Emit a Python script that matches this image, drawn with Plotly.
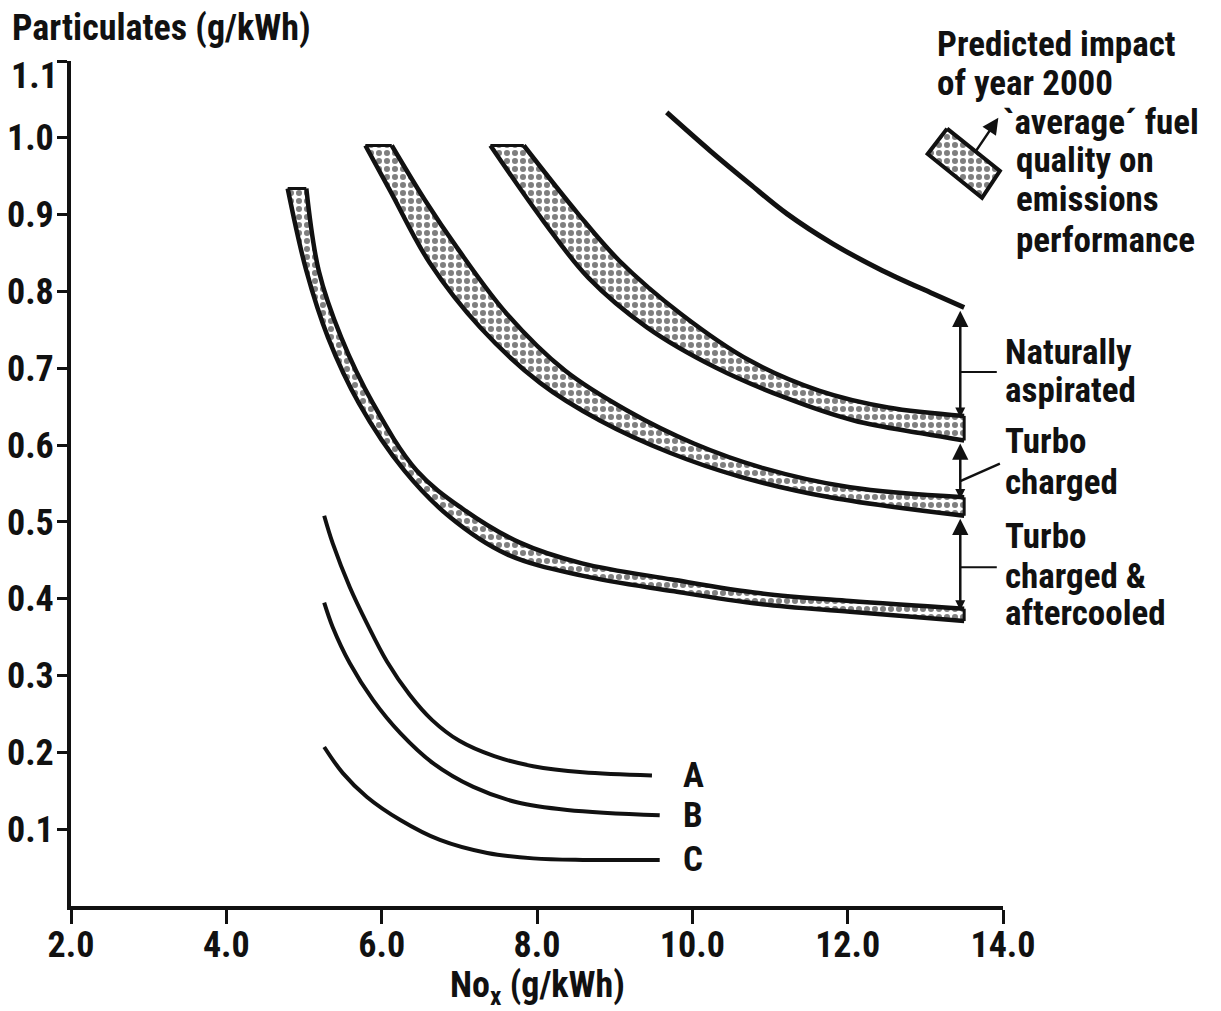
import plotly.graph_objects as go

# ---------------- data ----------------
# Naturally aspirated - upper (unshaded) line
na_top_x = [9.67, 10.23, 10.74, 11.22, 11.81, 12.45, 13.10, 13.50]
na_top_y = [1.033, 0.983, 0.940, 0.901, 0.862, 0.827, 0.797, 0.779]

# Naturally aspirated - shaded band (fuel quality impact)
na_hi_x = [7.83, 8.53, 9.06, 9.85, 10.74, 11.63, 12.52, 13.50]
na_hi_y = [0.990, 0.901, 0.840, 0.771, 0.710, 0.671, 0.649, 0.638]
na_lo_x = [7.40, 8.08, 8.66, 9.42, 10.30, 11.19, 12.08, 12.97, 13.50]
na_lo_y = [0.990, 0.892, 0.818, 0.753, 0.701, 0.662, 0.632, 0.615, 0.606]

# Turbo charged band
tc_hi_x = [6.13, 6.55, 6.97, 7.61, 8.36, 9.16, 10.02, 10.88, 12.03, 13.50]
tc_hi_y = [0.990, 0.920, 0.857, 0.771, 0.697, 0.645, 0.602, 0.571, 0.545, 0.532]
tc_lo_x = [5.79, 6.11, 6.62, 7.27, 8.04, 8.81, 9.71, 10.61, 11.77, 13.50]
tc_lo_y = [0.990, 0.931, 0.837, 0.753, 0.681, 0.632, 0.590, 0.559, 0.532, 0.508]

# Turbo charged & aftercooled band
tca_hi_x = [5.03, 5.19, 5.48, 5.89, 6.45, 7.03, 7.78, 8.58, 9.74, 10.88, 12.03, 13.50]
tca_hi_y = [0.934, 0.827, 0.740, 0.654, 0.567, 0.518, 0.473, 0.446, 0.425, 0.407, 0.397, 0.387]
tca_lo_x = [4.79, 5.03, 5.31, 5.71, 6.29, 6.87, 7.61, 8.58, 9.74, 10.88, 12.03, 13.50]
tca_lo_y = [0.934, 0.827, 0.740, 0.654, 0.567, 0.507, 0.458, 0.430, 0.410, 0.393, 0.383, 0.371]

# Curves A, B, C
a_x = [5.26, 5.37, 5.59, 5.81, 6.07, 6.36, 6.65, 7.00, 7.45, 7.95, 8.59, 9.48]
a_y = [0.508, 0.472, 0.415, 0.368, 0.318, 0.275, 0.242, 0.215, 0.195, 0.182, 0.174, 0.170]
b_x = [5.26, 5.37, 5.59, 5.89, 6.24, 6.66, 7.18, 7.74, 8.39, 9.58]
b_y = [0.395, 0.363, 0.316, 0.268, 0.225, 0.186, 0.155, 0.135, 0.125, 0.118]
c_x = [5.26, 5.50, 5.81, 6.24, 6.75, 7.36, 7.95, 8.59, 9.58]
c_y = [0.207, 0.173, 0.142, 0.112, 0.086, 0.069, 0.062, 0.060, 0.060]
curve_labels = ["A", "B", "C"]

# Legend swatch (tilted shaded box) and its arrow
swatch_x = [13.28, 13.96, 13.73, 13.03, 13.28]
swatch_y = [1.012, 0.957, 0.922, 0.979, 1.012]
swatch_arrow_from = (13.64, 0.981)
swatch_arrow_to = (13.94, 1.026)

# Axis ticks
x_tickvals = [2, 4, 6, 8, 10, 12, 14]
x_ticktext = ["2.0", "4.0", "6.0", "8.0", "10.0", "12.0", "14.0"]
y_tickvals = [0.1, 0.2, 0.3, 0.4, 0.5, 0.6, 0.7, 0.8, 0.9, 1.0, 1.1]
y_ticktext = ["0.1", "0.2", "0.3", "0.4", "0.5", "0.6", "0.7", "0.8", "0.9", "1.0", "1.1"]

# Texts
side_labels = [("Naturally", 0.720), ("aspirated", 0.671),
               ("Turbo", 0.605), ("charged", 0.551),
               ("Turbo", 0.481), ("charged &", 0.429), ("aftercooled", 0.381)]
# (text, paper x of left edge, paper y of line centre)
legend_lines = [("Predicted impact", 0.927, 1.019), ("of year 2000", 0.927, 0.973),
                ("`average\u00b4 fuel", 0.998, 0.927), ("quality on", 1.012, 0.882),
                ("emissions", 1.012, 0.836), ("performance", 1.012, 0.787)]

# ---------------- styling ----------------
FONT = "Liberation Sans Narrow, Arial Narrow, Roboto Condensed, DejaVu Sans Condensed, sans-serif"
INK = "#111111"
PATTERN = dict(shape=".", fgcolor="black", bgcolor="white", size=8, solidity=0.45)

fig = go.Figure()


def line(x, y, width=4, shape="spline"):
    fig.add_trace(go.Scatter(x=x, y=y, mode="lines",
                             line=dict(color=INK, width=width, shape=shape),
                             hoverinfo="skip", showlegend=False))


def band(lo_x, lo_y, hi_x, hi_y):
    line(lo_x, lo_y, width=4.5)
    fig.add_trace(go.Scatter(x=hi_x, y=hi_y, mode="lines",
                             line=dict(color=INK, width=4.5, shape="spline"),
                             fill="tonexty", fillpattern=PATTERN,
                             hoverinfo="skip", showlegend=False))
    line([lo_x[0], hi_x[0]], [lo_y[0], hi_y[0]], width=3, shape="linear")
    line([lo_x[-1], hi_x[-1]], [lo_y[-1], hi_y[-1]], width=3, shape="linear")


band(tca_lo_x, tca_lo_y, tca_hi_x, tca_hi_y)
band(tc_lo_x, tc_lo_y, tc_hi_x, tc_hi_y)
band(na_lo_x, na_lo_y, na_hi_x, na_hi_y)
line(na_top_x, na_top_y, width=5)
line(a_x, a_y)
line(b_x, b_y)
line(c_x, c_y)

# legend swatch
fig.add_trace(go.Scatter(x=swatch_x, y=swatch_y, mode="lines",
                         line=dict(color=INK, width=4), fill="toself",
                         fillpattern=PATTERN, hoverinfo="skip", showlegend=False))

annotations = []
txt_font = dict(family=FONT, size=35, color=INK, weight="bold")
tick_font = dict(family=FONT, size=36, color=INK, weight="bold")

# curve letter labels
for lab, xs, ys in zip(curve_labels, [a_x, b_x, c_x], [a_y, b_y, c_y]):
    annotations.append(dict(x=9.85, y=ys[-1], xref="x", yref="y", text=lab,
                            showarrow=False, xanchor="left", yanchor="middle",
                            font=txt_font))

# right side labels
for lab, yy in side_labels:
    annotations.append(dict(x=1.0, y=yy, xref="paper", yref="y", text=lab,
                            showarrow=False, xanchor="left", yanchor="middle",
                            font=txt_font))

# legend text
for lab, xx, yy in legend_lines:
    annotations.append(dict(x=xx, y=yy, xref="paper", yref="paper", text=lab,
                            showarrow=False, xanchor="left", yanchor="middle",
                            font=txt_font))

# top tick label (drawn slightly below its tick, as in the original)
annotations.append(dict(x=-0.012, y=0.982, xref="paper", yref="paper",
                        text=y_ticktext[-1], showarrow=False, xanchor="right",
                        yanchor="middle", font=tick_font))

# double-headed arrows between the families
ARROW_X = 13.45
arrow_pairs = [(na_hi_y[-1], na_top_y[-1]), (tc_hi_y[-1], na_lo_y[-1]),
               (tca_hi_y[-1], tc_lo_y[-1])]
for y0, y1 in arrow_pairs:
    annotations.append(dict(x=ARROW_X, y=y1 - 0.004, ax=ARROW_X, ay=y0 - 0.004,
                            xref="x", yref="y", axref="x", ayref="y", text="",
                            showarrow=True, arrowhead=2, arrowsize=1.3,
                            arrowwidth=2.5, arrowcolor=INK, arrowside="end+start",
                            startarrowhead=2, startarrowsize=0.8))

# swatch arrow
annotations.append(dict(x=swatch_arrow_to[0], y=swatch_arrow_to[1],
                        ax=swatch_arrow_from[0], ay=swatch_arrow_from[1],
                        xref="x", yref="y", axref="x", ayref="y", text="",
                        showarrow=True, arrowhead=2, arrowsize=1.3, arrowwidth=2.5,
                        arrowcolor=INK))

# axis titles
annotations.append(dict(x=-0.0655, y=1.039, xref="paper", yref="paper",
                        text="Particulates (g/kWh)", showarrow=False,
                        xanchor="left", yanchor="middle",
                        font=dict(family=FONT, size=36, color=INK, weight="bold")))
annotations.append(dict(x=0.5, y=-0.096, xref="paper", yref="paper",
                        text="No<sub>x</sub> (g/kWh)", showarrow=False,
                        xanchor="center", yanchor="middle",
                        font=dict(family=FONT, size=36, color=INK, weight="bold")))

# leader lines from arrows to labels
shapes = [
    dict(type="line", xref="x", yref="y", x0=ARROW_X, x1=13.92, y0=0.695, y1=0.695,
         line=dict(color=INK, width=2)),
    dict(type="line", xref="x", yref="y", x0=ARROW_X, x1=13.96, y0=0.553, y1=0.576,
         line=dict(color=INK, width=2.5)),
    dict(type="line", xref="x", yref="y", x0=ARROW_X, x1=13.92, y0=0.441, y1=0.441,
         line=dict(color=INK, width=2)),
]

fig.update_layout(
    width=1221, height=1011,
    margin=dict(l=71, r=218, t=61, b=105),
    paper_bgcolor="white", plot_bgcolor="white",
    showlegend=False,
    annotations=annotations, shapes=shapes,
    xaxis=dict(range=[2, 14], tickvals=x_tickvals, ticktext=x_ticktext,
               showgrid=False, zeroline=False, showline=True, linecolor=INK,
               linewidth=4, ticks="outside", ticklen=14, tickwidth=3,
               tickcolor=INK, tickfont=tick_font, fixedrange=True,
               automargin=False, ticklabelstandoff=-10),
    yaxis=dict(range=[0, 1.1], tickvals=y_tickvals,
               ticktext=y_ticktext[:-1] + [""],
               showgrid=False, zeroline=False, showline=True, linecolor=INK,
               linewidth=4, ticks="outside", ticklen=10, tickwidth=3,
               tickcolor=INK, tickfont=tick_font, fixedrange=True,
               automargin=False, ticklabelstandoff=-4),
)

fig.write_html("out.html")
